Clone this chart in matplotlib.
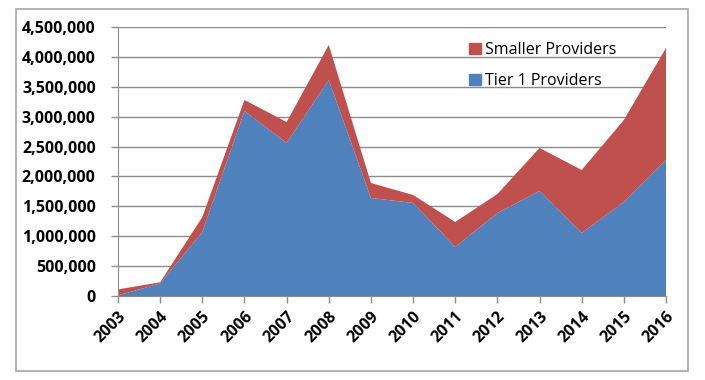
import numpy as np
import matplotlib.pyplot as plt
from matplotlib.patches import Rectangle, Patch
from matplotlib.ticker import FuncFormatter

years = [2003, 2004, 2005, 2006, 2007, 2008, 2009, 2010, 2011, 2012, 2013, 2014, 2015, 2016]
tier1 = [10000, 210000, 1070000, 3095000, 2560000, 3613000, 1640000, 1556000,
         820000, 1388000, 1757000, 1054000, 1573000, 2275000]
total = [110000, 230000, 1320000, 3280000, 2910000, 4200000, 1890000, 1690000,
         1238000, 1706000, 2476000, 2108000, 2944000, 4149000]
smaller = [t - a for t, a in zip(total, tier1)]

blue = '#4F81BD'
red = '#C0504D'
plt.rcParams['font.family'] = ['Open Sans', 'DejaVu Sans']

fig = plt.figure(figsize=(7.05, 3.8), dpi=100)
ax = fig.add_axes([118 / 705, 1 - 296 / 380, (666 - 118) / 705, (296 - 27) / 380])

# outer chart border
fig.patches.append(Rectangle((16 / 705, 1 - 371 / 380), 672 / 705, 362 / 380,
                             transform=fig.transFigure, fill=False,
                             edgecolor='#A6A6A6', linewidth=1.2))

ax.stackplot(years, tier1, smaller, colors=[blue, red], linewidth=0)

ax.set_xlim(2003, 2016)
ax.set_ylim(0, 4500000)
ax.set_xticks(years)
ax.set_yticks(np.arange(0, 4500001, 500000))
ax.yaxis.set_major_formatter(FuncFormatter(lambda v, p: f'{int(v):,}'))
ax.grid(axis='y', color='#8C8C8C', linewidth=1.0)
ax.set_axisbelow(True)
for s in ['top', 'right']:
    ax.spines[s].set_visible(False)
for s in ['left', 'bottom']:
    ax.spines[s].set_color('#8C8C8C')
ax.tick_params(axis='both', colors='#8C8C8C', length=5, width=1)
ax.tick_params(axis='y', pad=11)
ax.tick_params(axis='x', pad=4)
for lab in ax.get_yticklabels():
    lab.set_color('black')
    lab.set_fontweight('bold')
    lab.set_fontsize(11.5)
for lab in ax.get_xticklabels():
    lab.set_color('black')
    lab.set_fontweight('bold')
    lab.set_fontsize(11.5)
    lab.set_rotation(45)
    lab.set_ha('right')
    lab.set_rotation_mode('anchor')

handles = [Patch(color=red, label='Smaller Providers'), Patch(color=blue, label='Tier 1 Providers')]
ax.legend(handles=handles, loc='upper left', bbox_to_anchor=(455 / 705, 1 - 28 / 380),
          bbox_transform=fig.transFigure, frameon=False, fontsize=11.5,
          handlelength=0.7, handleheight=0.7, handletextpad=0.3, labelspacing=0.9)

fig.savefig('out.png', dpi=100)
